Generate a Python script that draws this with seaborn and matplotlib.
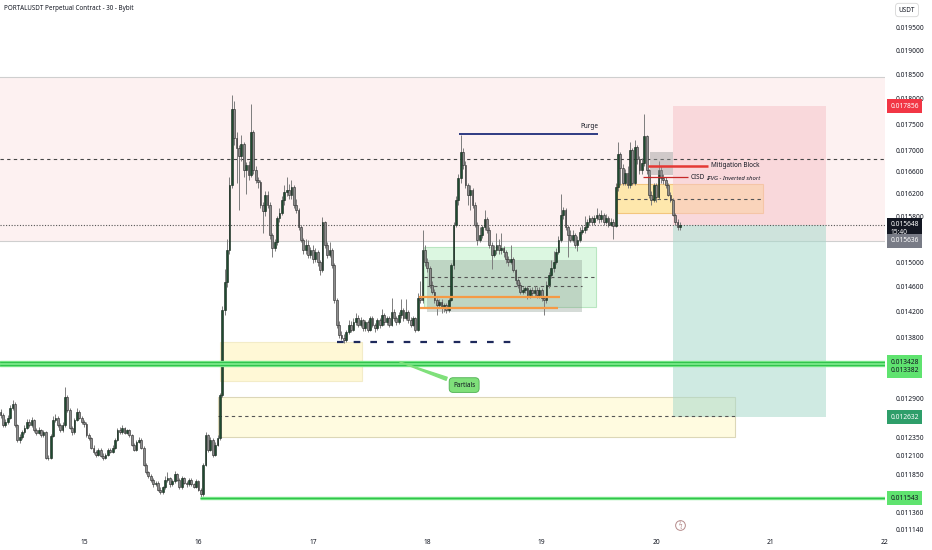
import numpy as np
import pandas as pd
import matplotlib.pyplot as plt
from matplotlib.patches import Rectangle
import seaborn as sns

# PORTALUSDT perpetual, 30 minute candles (prices in micro USDT)
first_open = 12700
closes = [
    12660, 12520, 12560, 12620, 12760, 12820, 12520, 12320, 12360, 12420, 12480, 12560,
    12520, 12590, 12450, 12410, 12450, 12380, 12420, 12070, 12070, 12370, 12590, 12620,
    12520, 12450, 12520, 12920, 12730, 12480, 12420, 12590, 12700, 12620, 12560, 12530,
    12380, 12340, 12210, 12150, 12110, 12180, 12100, 12070, 12110, 12180, 12150, 12210,
    12320, 12450, 12420, 12480, 12410, 12450, 12380, 12250, 12180, 12290, 12320, 12210,
    11980, 11880, 11830, 11780, 11720, 11740, 11650, 11620, 11680, 11780, 11800, 11720,
    11760, 11850, 11780, 11680, 11800, 11740, 11720, 11780, 11720, 11690, 11760, 11650,
    11590, 11980, 12380, 12180, 12320, 12110, 12250, 12340, 12950,
    14230, 14680, 15210, 16360, 17800, 17240, 17040, 16900, 17110, 16630, 16720, 16540,
    17350, 16630, 16450, 16410, 16000, 15880, 16180, 16000, 15470, 15240, 15350, 15770,
    15860, 16090, 16230, 16270, 16180, 16310, 16000, 15910, 15600, 15390, 15210, 15300,
    15130, 15210, 15070, 15180, 15010, 14880, 15690, 15300, 15130, 15210, 14960, 14390,
    14000, 13840, 13800, 13770, 13890, 14000, 13920, 14040, 14100, 14000, 14070, 13950,
    14040, 13920, 14100, 14000, 13950, 14070, 14000, 14150, 14040, 14100, 14000, 14200,
    14100, 14040, 14150, 14230, 14100, 14200, 14070, 14000, 14100, 13920, 14420, 14390,
    15210, 15010, 14910, 14630, 14520, 14390, 14310, 14360, 14260, 14310, 14230, 14390,
    14960, 15650, 16090, 16480, 16970, 16720, 16360, 16180, 16270, 16000, 15650, 15390,
    15470, 15600, 15740, 15560, 15300, 15130, 15210, 15300, 15210, 15240, 15180, 15070,
    15010, 15070, 14880, 14710, 14630, 14520, 14550, 14580, 14470, 14550, 14500, 14550,
    14470, 14550, 14420, 14390, 14630, 14790, 14910, 15010, 15180, 15390, 15820, 15910,
    15600, 15470, 15390, 15470, 15300, 15390, 15530, 15560, 15600, 15700, 15770, 15700,
    15770, 15820, 15740, 15820, 15700, 15770, 15650, 15700, 15630, 16320, 16930, 16670,
    16400, 16580, 16360, 17000, 16400, 17060, 16830, 16630, 16760, 17280, 16630, 16180,
    16090, 16360, 16130, 16630, 16480, 16450, 16360, 16180, 16090, 15820, 15700, 15600, 15648,
]
highs = [
    12740, 12690, 12600, 12660, 12800, 12880, 12840, 12540, 12400, 12450, 12520, 12600,
    12600, 12630, 12610, 12480, 12490, 12470, 12450, 12440, 12110, 12400, 12640, 12680,
    12650, 12550, 12560, 13060, 12950, 12760, 12510, 12620, 12760, 12730, 12650, 12590,
    12560, 12410, 12360, 12240, 12180, 12210, 12200, 12130, 12140, 12200, 12210, 12240,
    12340, 12480, 12490, 12520, 12500, 12470, 12470, 12400, 12270, 12310, 12350, 12340,
    12230, 12000, 11900, 11860, 11800, 11770, 11760, 11680, 11700, 11830, 11880, 11820,
    11790, 11890, 11870, 11800, 11830, 11820, 11760, 11810, 11800, 11740, 11790, 11780,
    11670, 12000, 12420, 12400, 12350, 12340, 12280, 12380, 12980,
    14300, 14900, 15400, 16500, 18080, 17950, 17350, 17100, 17300, 17150, 16780, 16800,
    17900, 17380, 16700, 16500, 16450, 16050, 16250, 16250, 16050, 15500, 15400, 15800,
    15950, 16150, 16350, 16500, 16380, 16450, 16350, 16100, 15950, 15650, 15420, 15400,
    15380, 15260, 15300, 15250, 15220, 15050, 15780, 15720, 15350, 15350, 15250, 15000,
    14420, 14050, 13900, 13850, 13920, 14080, 14050, 14100, 14180, 14150, 14120, 14090,
    14080, 14070, 14130, 14140, 14030, 14100, 14110, 14250, 14180, 14140, 14130, 14420,
    14250, 14130, 14200, 14400, 14260, 14400, 14230, 14120, 14130, 14120, 14500, 14700,
    15560, 15300, 15080, 14950, 14700, 14560, 14420, 14400, 14400, 14350, 14340, 14420,
    15000, 15700, 16150, 16550, 17300, 17050, 16800, 16400, 16350, 16300, 16050, 15700,
    15600, 15650, 15900, 15780, 15600, 15350, 15300, 15500, 15400, 15500, 15280, 15220,
    15120, 15300, 15100, 14900, 14750, 14680, 14600, 14620, 14620, 14580, 14600, 14620,
    14600, 14600, 14580, 14450, 14700, 14850, 15050, 15200, 15250, 15450, 16200, 15960,
    15950, 15650, 15550, 15550, 15500, 15450, 15600, 15650, 15800, 15750, 15820, 15800,
    15820, 15950, 15850, 15900, 15850, 15830, 15800, 15760, 15750, 16400, 17160, 16960,
    16750, 16650, 16700, 17150, 17050, 17200, 17100, 16900, 16850, 17700, 17300, 16650,
    16250, 16400, 16400, 16800, 16700, 16550, 16500, 16400, 16220, 16120, 15850, 15750, 15700,
]
lows = [
    12620, 12500, 12490, 12530, 12600, 12730, 12500, 12290, 12270, 12330, 12400, 12460,
    12490, 12500, 12430, 12380, 12390, 12350, 12350, 12050, 12040, 12050, 12350, 12560,
    12500, 12420, 12430, 12500, 12700, 12460, 12380, 12400, 12570, 12600, 12540, 12500,
    12360, 12310, 12190, 12120, 12080, 12090, 12080, 12040, 12050, 12090, 12130, 12130,
    12190, 12300, 12390, 12400, 12390, 12390, 12360, 12230, 12160, 12160, 12270, 12190,
    11960, 11860, 11800, 11750, 11690, 11700, 11630, 11590, 11600, 11660, 11750, 11690,
    11700, 11740, 11760, 11660, 11660, 11720, 11690, 11700, 11700, 11670, 11670, 11630,
    11543, 11570, 11960, 12150, 12160, 12080, 12090, 12230, 12320,
    12920, 14150, 14600, 15150, 16300, 17100, 16400, 15900, 16800, 16500, 16200, 16450,
    16500, 16550, 16400, 16300, 15950, 15500, 15800, 15950, 15400, 15100, 15200, 15300,
    15700, 15820, 16000, 16150, 16100, 16100, 15950, 15850, 15550, 15350, 15150, 15150,
    15080, 15080, 15000, 15020, 14950, 14800, 14850, 15250, 15080, 15100, 14920, 14350,
    13950, 13800, 13760, 13720, 13740, 13860, 13880, 13900, 14000, 13960, 13970, 13900,
    13900, 13890, 13900, 13960, 13880, 13920, 13950, 13980, 14000, 14000, 13960, 13980,
    14060, 14000, 14010, 14100, 14060, 14080, 14030, 13970, 13980, 13880, 13900, 14350,
    14350, 14950, 14850, 14580, 14480, 14350, 14150, 14280, 14180, 14200, 14180, 14200,
    14370, 14900, 15600, 16000, 16400, 16650, 16300, 16000, 15900, 15950, 15600, 15300,
    15350, 15420, 15550, 15500, 15250, 14900, 15100, 15150, 15150, 15150, 15100, 15000,
    14950, 14980, 14850, 14650, 14580, 14480, 14480, 14500, 14400, 14430, 14460, 14450,
    14420, 14420, 14380, 14150, 14350, 14580, 14750, 14850, 14980, 15150, 15350, 15750,
    15550, 15100, 15350, 15350, 15250, 15200, 15350, 15480, 15500, 15550, 15650, 15650,
    15650, 15730, 15680, 15700, 15650, 15660, 15600, 15620, 15400, 15600, 16250, 16350,
    16350, 16350, 16300, 16300, 16350, 16350, 16750, 16550, 16550, 16700, 16550, 16120,
    16000, 16050, 16050, 16100, 16400, 16380, 16300, 16150, 16050, 15800, 15650, 15550, 15560,
]

# visible price scale labels (the ones under the tags are covered in the reference)
y_ticks = [0.0195, 0.019, 0.0185, 0.018, 0.0175, 0.017, 0.0166, 0.0162, 0.0158,
           0.015, 0.0146, 0.0142, 0.0138, 0.0129, 0.01235, 0.0121,
           0.01185, 0.01136, 0.01114]
x_days = [15, 16, 17, 18, 19, 20, 21, 22]

last_price = 0.015648
stop_price = 0.017856
target_price = 0.012632
green_levels = [0.013428, 0.013382]
low_level = 0.011543

sns.set_theme(style="white")
plt.rcParams["font.family"] = ["Noto Sans", "DejaVu Sans"]

times = pd.date_range("2025-01-14 06:30", periods=len(closes), freq="30min")
df = pd.DataFrame({
    "t": times.day + times.hour / 24 + times.minute / 1440,
    "open": np.array([first_open] + closes[:-1]) / 1e6,
    "close": np.array(closes) / 1e6,
    "high": np.array(highs) / 1e6,
    "low": np.array(lows) / 1e6,
})
df["bot"] = df[["open", "close"]].min(axis=1)
df["top"] = df[["open", "close"]].max(axis=1)
up = df["close"] >= df["open"]

fig = plt.figure(figsize=(9.32, 5.5), dpi=100)
ax = fig.add_axes([0, 18 / 550, 885 / 932, 532 / 550])
ax.set_yscale("log")
ax.set_xlim(14.2657, 22.0)
ax.set_ylim(0.011115, 0.020095)


def box(x0, x1, y0, y1, fc, ec="none", alpha=1.0, z=1, lw=0.8):
    ax.add_patch(Rectangle((x0, y0), x1 - x0, y1 - y0, facecolor=fc, edgecolor=ec,
                           alpha=alpha, zorder=z, lw=lw))


# zones
box(14.0, 22.5, 0.015370, 0.018444, "#fdf1f1", ec="#cfcfcf", z=0.5)
box(16.189, 17.430, 0.013149, 0.013734, "#fff8d6", ec="#f3ecc8", z=1)
box(16.171, 20.690, 0.012355, 0.012917, "#fffbe0", ec="#dcd7b8", z=1)
ax.hlines(0.01264, 16.171, 20.690, colors="#555555", linestyles=(0, (3, 3)), lw=0.8, zorder=2)
box(17.972, 19.476, 0.014278, 0.015265, "#dcf7e1", ec="#b9e6c1", z=1)
box(17.998, 19.353, 0.014200, 0.015044, "#7f8f84", alpha=0.32, z=1.2)
ax.hlines(0.014763, 17.972, 19.476, colors="#555555", linestyles=(0, (3, 3)), lw=0.8, zorder=2)
ax.hlines(0.014617, 17.998, 19.353, colors="#555555", linestyles=(0, (3, 3)), lw=0.8, zorder=2)
box(19.659, 20.935, 0.015853, 0.016374, "#ffe6a0", ec="#f2c070", alpha=0.85, z=1.5)
ax.hlines(0.016107, 19.659, 20.935, colors="#555555", linestyles=(0, (3, 3)), lw=0.8, zorder=2)
box(20.149, 21.486, last_price, stop_price, "#f7c5c9", alpha=0.55, z=1.6)
box(20.149, 21.486, target_price, last_price, "#a8d9cb", alpha=0.55, z=1.6)

# candles
w = 0.75 / 48
ax.vlines(df["t"], df["low"], df["high"], color="#7d7d7d", lw=0.7, zorder=3)
ax.bar(df["t"][up], (df["top"] - df["bot"])[up], bottom=df["bot"][up], width=w,
       color="#1f4b30", edgecolor="#122219", lw=0.4, zorder=4)
ax.bar(df["t"][~up], (df["top"] - df["bot"])[~up], bottom=df["bot"][~up], width=w,
       color="#8e8e8e", edgecolor="#262626", lw=0.4, zorder=4)

box(19.948, 20.149, 0.016538, 0.016967, "#9a9a9a", alpha=0.45, z=5)

# levels and lines
ax.axhline(0.016836, color="#444444", ls=(0, (3, 3)), lw=0.8, zorder=2)
ax.axhline(last_price, color="#555555", ls=(0, (1, 1.5)), lw=0.8, zorder=2)
for lv in green_levels:
    ax.axhline(lv, color="#74e584", lw=2.4, zorder=6)
    ax.axhline(lv, color="#2fc24c", lw=0.7, zorder=6)
ax.hlines(low_level, 16.014, 22.0, colors="#74e584", lw=2.4, zorder=6)
ax.hlines(low_level, 16.014, 22.0, colors="#2fc24c", lw=0.7, zorder=6)

ax.hlines(0.013734, 17.215, 18.741, colors="#1f2a5c", linestyles=(0, (3, 4.5)), lw=1.6, zorder=6)
ax.hlines(0.014438, 17.928, 19.161, colors="#f59a45", lw=1.6, zorder=6)
ax.hlines(0.014262, 17.937, 19.143, colors="#f59a45", lw=1.6, zorder=6)

ax.hlines(0.01731, 18.278, 19.493, colors="#1f2d7a", lw=1.3, zorder=6)
ax.text(19.42, 0.01738, "Purge", fontsize=4.6, ha="center", va="bottom", color="#131722", zorder=7)

ax.hlines(0.016706, 19.930, 20.455, colors="#e53935", lw=1.8, zorder=6)
ax.text(20.48, 0.016706, "Mitigation Block", fontsize=4.6, ha="left", va="center",
        color="#131722", zorder=7)
ax.hlines(0.016501, 19.886, 20.280, colors="#c62828", lw=0.9, zorder=6)
ax.text(20.305, 0.016501, "CISD", fontsize=4.6, ha="left", va="center", color="#131722", zorder=7)
ax.text(20.44, 0.01648, "IFVG - Inverted short", fontsize=4.3, ha="left", va="center",
        style="italic", color="#131722", zorder=7)

ax.annotate("Partials", xy=(17.736, 0.013445), xytext=(18.322, 0.01309),
            fontsize=4.6, ha="center", va="center", color="#131722", zorder=7,
            bbox=dict(boxstyle="round,pad=0.6", fc="#7fe07a", ec="#4caf50", lw=0.6),
            arrowprops=dict(arrowstyle="wedge,tail_width=0.5", fc="#7fe07a", ec="#7fe07a"))

ax.plot([20.21], [0.0112], marker="o", ms=7, mfc="none", mec="#b58a8a", mew=0.7, clip_on=False)
ax.text(20.21, 0.0112, "ϟ", fontsize=4.5, ha="center", va="center", color="#b58a8a")

# axes
ax.yaxis.tick_right()
ax.set_yticks(y_ticks)
ax.set_yticklabels([f"{v:.6f}" for v in y_ticks])
ax.yaxis.set_minor_locator(plt.NullLocator())
ax.set_xticks(x_days)
ax.set_xticklabels([str(d) for d in x_days])
ax.tick_params(axis="y", length=0, pad=8, labelsize=4.8, labelcolor="#131722")
ax.tick_params(axis="x", length=0, pad=5, labelsize=4.8, labelcolor="#131722")
sns.despine(ax=ax, left=True, right=True, top=True, bottom=True)
ax.grid(False)

ytr = ax.get_yaxis_transform()


def tag(y, text, fc, tc):
    ax.text(1.006, y, text, transform=ytr, fontsize=4.8, ha="left", va="center", color=tc,
            zorder=10, clip_on=False,
            bbox=dict(boxstyle="square,pad=0.5", fc=fc, ec="none"))


tag(stop_price, "0.017856", "#f23645", "white")
tag(0.015575, "0.015648\n15:40", "#131722", "white")
tag(0.01537, "0.015636", "#787b86", "white")
tag(0.013428, "0.013428", "#5fe36f", "#131722")
tag(0.013297, "0.013382", "#5fe36f", "#131722")
tag(target_price, "0.012632", "#2e9e6a", "white")
tag(low_level, "0.011543", "#5fe36f", "#131722")

fig.text(4 / 932, 1 - 9 / 550, "PORTALUSDT Perpetual Contract - 30 - Bybit", fontsize=4.5,
         fontweight="semibold", color="#131722", ha="left", va="center")
fig.text(907 / 932, 1 - 10 / 550, "USDT", fontsize=4.6, color="#131722", ha="center", va="center",
         bbox=dict(boxstyle="round,pad=0.5", fc="white", ec="#d6d6d6", lw=0.6))

fig.savefig("out.png", dpi=100)
